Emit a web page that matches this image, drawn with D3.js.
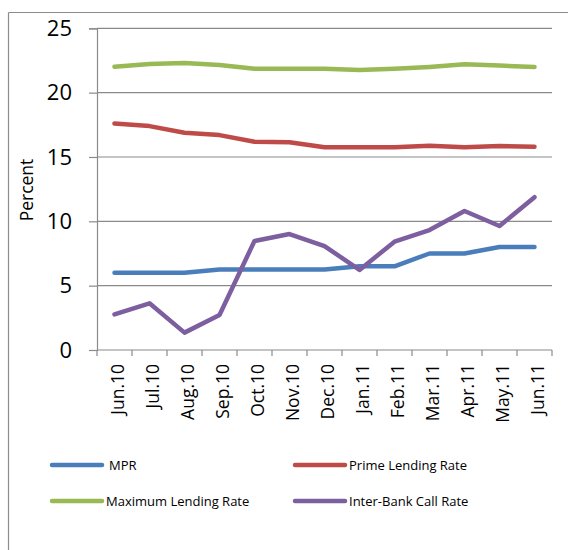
<!DOCTYPE html>
<html>
<head>
<meta charset="utf-8">
<script src="https://cdn.jsdelivr.net/npm/d3@7"></script>
<style>
  html, body { margin: 0; padding: 0; background: #fff; }
  svg { display: block; font-family: "Open Sans", "Liberation Sans", Arial, sans-serif; }
</style>
</head>
<body>
<svg id="chart" width="568" height="550"></svg>
<script>
// Monthly rates, Jun 2010 - Jun 2011
const months = ["Jun.10","Jul.10","Aug.10","Sep.10","Oct.10","Nov.10","Dec.10",
                "Jan.11","Feb.11","Mar.11","Apr.11","May.11","Jun.11"];
const mpr          = [6, 6, 6, 6.25, 6.25, 6.25, 6.25, 6.5, 6.5, 7.5, 7.5, 8, 8];
const primeLending = [17.6, 17.4, 16.88, 16.7, 16.19, 16.15, 15.75, 15.75, 15.75, 15.87, 15.75, 15.85, 15.8];
const maxLending   = [22.01, 22.22, 22.3, 22.14, 21.86, 21.86, 21.86, 21.76, 21.86, 22.0, 22.2, 22.1, 22.0];
const interBank    = [2.77, 3.63, 1.35, 2.72, 8.47, 9.01, 8.08, 6.22, 8.42, 9.32, 10.8, 9.64, 11.87];
const yTicks = [0, 5, 10, 15, 20, 25];

const series = [
  { name: "MPR", values: mpr, color: "#4a7ebb" },
  { name: "Prime Lending Rate", values: primeLending, color: "#be4b48" },
  { name: "Maximum Lending Rate", values: maxLending, color: "#98b954" },
  { name: "Inter-Bank Call Rate", values: interBank, color: "#7d5fa0" }
];

const svg = d3.select("#chart");
const plotLeft = 97, plotRight = 552, plotTop = 28.3, plotBottom = 350;

// Outer chart frame (top and left edges)
svg.append("line").attr("x1", 8.5).attr("x2", 568).attr("y1", 12.5).attr("y2", 12.5)
  .attr("stroke", "#8c8c8c").attr("stroke-width", 1.2);
svg.append("line").attr("x1", 8.5).attr("x2", 8.5).attr("y1", 12.5).attr("y2", 550)
  .attr("stroke", "#8c8c8c").attr("stroke-width", 1.2);

const x = d3.scaleBand().domain(months).range([plotLeft, plotRight]);
const y = d3.scaleLinear().domain([0, 25]).range([plotBottom, plotTop]);

// Horizontal gridlines
svg.append("g").selectAll("line").data(yTicks.filter(d => d > 0)).join("line")
  .attr("x1", plotLeft).attr("x2", plotRight)
  .attr("y1", d => y(d)).attr("y2", d => y(d))
  .attr("stroke", "#8a8a8a").attr("stroke-width", 1.2);

// Y axis
const yAxis = svg.append("g").attr("transform", `translate(${plotLeft},0)`)
  .call(d3.axisLeft(y).tickValues(yTicks).tickSize(8).tickPadding(17));
yAxis.select(".domain").attr("stroke", "#8a8a8a").attr("stroke-width", 1.2);
yAxis.selectAll(".tick line").attr("stroke", "#8a8a8a").attr("stroke-width", 1.2);
yAxis.selectAll("text").attr("font-size", 22).attr("fill", "#000")
  .attr("font-family", "'Open Sans', sans-serif");

// X axis with tick marks at category boundaries
const xAxisG = svg.append("g").attr("transform", `translate(0,${plotBottom})`);
xAxisG.append("line").attr("x1", plotLeft).attr("x2", plotRight).attr("y1", 0).attr("y2", 0)
  .attr("stroke", "#8a8a8a").attr("stroke-width", 1.2);
const bounds = months.map(m => x(m)).concat([x(months[months.length - 1]) + x.bandwidth()]);
xAxisG.selectAll("line.tk").data(bounds).join("line").attr("class", "tk")
  .attr("x1", d => d).attr("x2", d => d).attr("y1", 0).attr("y2", 6)
  .attr("stroke", "#8a8a8a").attr("stroke-width", 1.2);
xAxisG.selectAll("text").data(months).join("text")
  .attr("transform", d => `translate(${x(d) + x.bandwidth() / 2 + 9},14) rotate(-90)`)
  .attr("text-anchor", "end")
  .attr("font-size", 17.5)
  .attr("font-family", "'Open Sans', sans-serif")
  .text(d => d);

// Y axis title
svg.append("text")
  .attr("transform", "translate(33,190) rotate(-90)")
  .attr("text-anchor", "middle")
  .attr("font-size", 17.5)
  .text("Percent");

// Series lines
const line = d3.line()
  .x((d, i) => x(months[i]) + x.bandwidth() / 2)
  .y(d => y(d));
svg.append("g").selectAll("path").data(series).join("path")
  .attr("d", s => line(s.values))
  .attr("fill", "none")
  .attr("stroke", s => s.color)
  .attr("stroke-width", 4.5)
  .attr("stroke-linejoin", "round")
  .attr("stroke-linecap", "round");

// Legend, two columns by two rows
const legendPos = [
  { sx: 52, tx: 109, ty: 465 },
  { sx: 295, tx: 349, ty: 465 },
  { sx: 52, tx: 106, ty: 501 },
  { sx: 295, tx: 349, ty: 501 }
];
const lg = svg.append("g").selectAll("g").data(series).join("g");
lg.append("line")
  .attr("x1", (d, i) => legendPos[i].sx).attr("x2", (d, i) => legendPos[i].sx + 50)
  .attr("y1", (d, i) => legendPos[i].ty).attr("y2", (d, i) => legendPos[i].ty)
  .attr("stroke", d => d.color).attr("stroke-width", 4.5).attr("stroke-linecap", "round");
lg.append("text")
  .attr("x", (d, i) => legendPos[i].tx).attr("y", (d, i) => legendPos[i].ty)
  .attr("dy", "0.35em")
  .attr("font-size", 13)
  .text(d => d.name);
</script>
</body>
</html>
